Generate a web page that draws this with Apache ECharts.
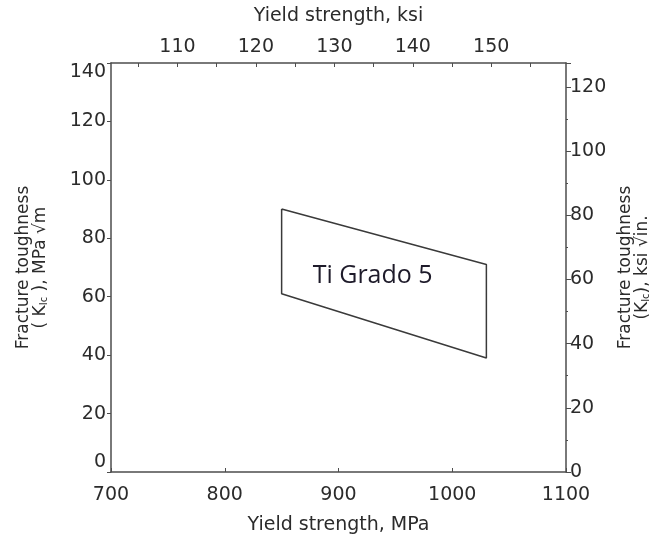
<!DOCTYPE html>
<html>
<head>
<meta charset="utf-8">
<script src="https://cdn.jsdelivr.net/npm/echarts@6/dist/echarts.min.js"></script>
<style>
  html, body { margin: 0; padding: 0; background: #fff; }
  #main { width: 660px; height: 543px; }
</style>
</head>
<body>
<div id="main"></div>
<script>
// Ti Grade 5 band (yield strength MPa vs K_Ic MPa sqrt m), closed polygon
const polyMpa = [850, 1030, 1030, 850, 850];
const polyK = [90, 71, 39, 61, 90];
const regionLabel = ['Ti Grado 5'];
const regionLabelPos = [930, 67];
// top axis tick labels (ksi)
const ksiLabels = [110, 120, 130, 140, 150];
const ksiTicks = [105, 110, 115, 120, 125, 130, 135, 140, 145, 150, 155];

const MPA_PER_KSI = 6.895;
const MPAM_PER_KSIIN = 1.0988;
const xMin = 700, xMax = 1100;
const yMin = 0, yMax = 140;

const txt = '#2b2b2b';
const lineCol = '#4d4d4d';
const font = 'DejaVu Sans';

const chartDom = document.getElementById('main');
const myChart = echarts.init(chartDom);

const polyData = polyMpa.map((v, i) => [v, polyK[i]]);

const option = {
    animation: false,
    backgroundColor: '#fff',
    grid: { left: 111, right: 94, top: 63, bottom: 71 },
    xAxis: [
        {
            type: 'value',
            position: 'bottom',
            min: xMin,
            max: xMax,
            interval: 100,
            name: 'Yield strength, MPa',
            nameLocation: 'middle',
            nameGap: 44,
            nameTextStyle: { color: txt, fontSize: 19, fontFamily: font },
            axisLine: { show: true, onZero: false, lineStyle: { color: lineCol, width: 1.5 } },
            axisTick: { show: true, inside: true, length: 4, lineStyle: { color: lineCol } },
            minorTick: { show: false },
            axisLabel: { color: txt, fontSize: 19, fontFamily: font, margin: 14, formatter: (v) => String(v) },
            splitLine: { show: false }
        },
        {
            type: 'value',
            position: 'top',
            min: xMin / MPA_PER_KSI,
            max: xMax / MPA_PER_KSI,
            name: 'Yield strength, ksi',
            nameLocation: 'middle',
            nameGap: 37,
            nameTextStyle: { color: txt, fontSize: 19, fontFamily: font },
            axisLine: { show: true, onZero: false, lineStyle: { color: lineCol, width: 1.5 } },
            axisTick: { show: true, inside: true, length: 4, customValues: ksiTicks, lineStyle: { color: lineCol } },
            axisLabel: { color: txt, fontSize: 19, fontFamily: font, margin: 6, customValues: ksiLabels },
            splitLine: { show: false }
        }
    ],
    yAxis: [
        {
            type: 'value',
            position: 'left',
            min: yMin,
            max: yMax,
            interval: 20,
            name: 'Fracture toughness\n( {k|K}{s|Ic} ), MPa \u221Am',
            nameLocation: 'middle',
            nameRotate: 90,
            nameGap: 62,
            nameTextStyle: {
                color: txt, fontSize: 17, fontFamily: font, lineHeight: 17,
                rich: {
                    k: { color: txt, fontSize: 17, fontFamily: font },
                    s: { color: txt, fontSize: 10, fontFamily: font, verticalAlign: 'bottom' }
                }
            },
            axisLine: { show: true, onZero: false, lineStyle: { color: lineCol, width: 1.5 } },
            axisTick: { show: true, inside: false, length: 4, lineStyle: { color: lineCol } },
            axisLabel: {
                color: txt, fontSize: 19, fontFamily: font, margin: 5,
                verticalAlignMaxLabel: 'top', verticalAlignMinLabel: 'bottom'
            },
            splitLine: { show: false }
        },
        {
            type: 'value',
            position: 'right',
            min: yMin / MPAM_PER_KSIIN,
            max: yMax / MPAM_PER_KSIIN,
            interval: 20,
            name: 'Fracture toughness\n({k|K}{s|Ic}), ksi \u221Ain.',
            nameLocation: 'middle',
            nameRotate: 90,
            nameGap: 46,
            nameTextStyle: {
                color: txt, fontSize: 17, fontFamily: font, lineHeight: 17,
                rich: {
                    k: { color: txt, fontSize: 17, fontFamily: font },
                    s: { color: txt, fontSize: 10, fontFamily: font, verticalAlign: 'bottom' }
                }
            },
            axisLine: { show: true, onZero: false, lineStyle: { color: lineCol, width: 1.5 } },
            axisTick: { show: true, inside: false, length: 5, lineStyle: { color: lineCol } },
            minorTick: { show: true, splitNumber: 2, length: 2, lineStyle: { color: lineCol } },
            axisLabel: { color: txt, fontSize: 19, fontFamily: font, margin: 4, showMaxLabel: false },
            splitLine: { show: false }
        }
    ],
    series: [
        {
            type: 'line',
            xAxisIndex: 0,
            yAxisIndex: 0,
            data: polyData,
            symbol: 'none',
            silent: true,
            lineStyle: { color: '#3a3a3a', width: 1.5 }
        },
        {
            type: 'scatter',
            xAxisIndex: 0,
            yAxisIndex: 0,
            data: [regionLabelPos],
            symbolSize: 0,
            silent: true,
            itemStyle: { opacity: 1 },
            label: {
                show: true,
                position: 'inside',
                formatter: regionLabel[0],
                color: '#1e1b2a',
                fontSize: 25,
                fontFamily: 'Open Sans'
            }
        }
    ]
};

option && myChart.setOption(option);
</script>
</body>
</html>
